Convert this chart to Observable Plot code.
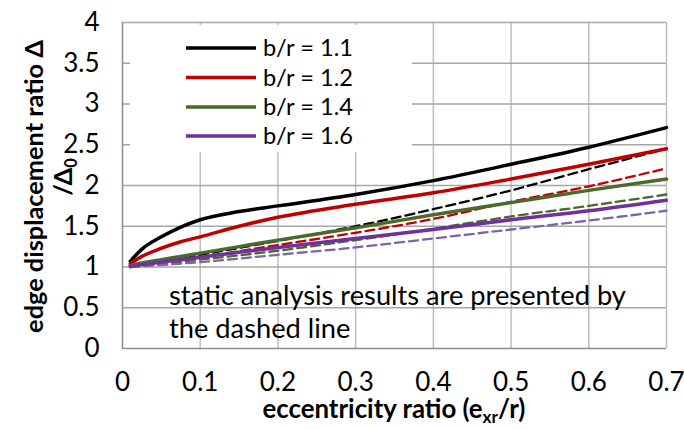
<!DOCTYPE html>
<html>
<head>
<meta charset="utf-8">
<script src="https://cdn.jsdelivr.net/npm/d3@7"></script>
<script src="https://cdn.jsdelivr.net/npm/@observablehq/plot@0.6"></script>
<style>
  html, body { margin: 0; padding: 0; background: #fff; }
  svg { display: block; }
</style>
</head>
<body>
<div id="chart"></div>
<script>
// ---- data ----
const xTicks = [0, 0.1, 0.2, 0.3, 0.4, 0.5, 0.6, 0.7];
const xTickLabels = ["0", "0.1", "0.2", "0.3", "0.4", "0.5", "0.6", "0.7"];
const yTicks = [0, 0.5, 1, 1.5, 2, 2.5, 3, 3.5, 4];
const yTickLabels = ["0", "0.5", "1", "1.5", "2", "2.5", "3", "3.5", "4"];

const seriesNames = ["b/r = 1.1", "b/r = 1.2", "b/r = 1.4", "b/r = 1.6"];
const solidColors = ["#000000", "#c00000", "#4a6a2a", "#7030a0"];
const dashedColors = ["#000000", "#c00000", "#4a6a2a", "#8064a2"];

// dynamic analysis (solid)
const solidX = [0.01, 0.025, 0.05, 0.075, 0.1, 0.15, 0.2, 0.3, 0.4, 0.5, 0.6, 0.7];
const solid11 = [1.07, 1.22, 1.37, 1.49, 1.58, 1.68, 1.75, 1.89, 2.06, 2.26, 2.47, 2.71];
const solid12 = [1.04, 1.13, 1.23, 1.31, 1.37, 1.50, 1.61, 1.77, 1.91, 2.08, 2.26, 2.45];
const solid14 = [1.02, 1.05, 1.09, 1.13, 1.17, 1.25, 1.33, 1.48, 1.64, 1.79, 1.94, 2.08];
const solid16 = [1.01, 1.03, 1.06, 1.09, 1.12, 1.18, 1.24, 1.35, 1.46, 1.58, 1.69, 1.82];

// static analysis (dashed)
const dashX = [0.01, 0.1, 0.2, 0.3, 0.4, 0.5, 0.6, 0.7];
const dash11 = [1.00, 1.15, 1.32, 1.50, 1.71, 1.94, 2.20, 2.45];
const dash12 = [1.00, 1.12, 1.27, 1.42, 1.59, 1.80, 1.99, 2.21];
const dash14 = [1.00, 1.09, 1.20, 1.33, 1.47, 1.62, 1.75, 1.89];
const dash16 = [1.00, 1.06, 1.15, 1.24, 1.35, 1.46, 1.57, 1.69];

const annotationLines = ["static analysis results are presented by", "the dashed line"];

// ---- tables ----
const solidSets = [solid11, solid12, solid14, solid16];
const dashSets = [dash11, dash12, dash14, dash16];
const solidData = solidSets.flatMap((ys, i) => ys.map((y, j) => ({x: solidX[j], y, s: seriesNames[i]})));
const dashData = dashSets.flatMap((ys, i) => ys.map((y, j) => ({x: dashX[j], y, s: seriesNames[i]})));

const FONT = "Lato, 'Open Sans', sans-serif";
const W = 684, H = 429;
const mL = 122, mR = 18, mT = 22, mB = 81;
const TICK_FS = 26;

const plot = Plot.plot({
  width: W, height: H,
  marginLeft: mL, marginRight: mR, marginTop: mT, marginBottom: mB,
  style: {fontFamily: FONT, background: "#fff", overflow: "visible"},
  x: {domain: [0, 0.7]},
  y: {domain: [0, 4]},
  marks: [
    Plot.ruleX(xTicks.slice(1), {stroke: "#bfbfbf", strokeWidth: 1.5}),
    Plot.ruleY(yTicks.slice(1), {stroke: "#a6a6a6", strokeWidth: 1.5}),
    Plot.ruleX([0], {stroke: "#8c8c8c", strokeWidth: 1.5}),
    Plot.ruleY([0], {stroke: "#8c8c8c", strokeWidth: 1.5}),
    Plot.lineY(dashData, {x: "x", y: "y", z: "s", stroke: d => dashedColors[seriesNames.indexOf(d.s)],
      strokeWidth: 2.3, strokeDasharray: "9,5", curve: "monotone-x"}),
    Plot.lineY(solidData, {x: "x", y: "y", z: "s", stroke: d => solidColors[seriesNames.indexOf(d.s)],
      strokeWidth: 3.5, curve: "monotone-x"}),
    Plot.axisX({ticks: xTicks, tickSize: 0, tickPadding: 24, fontSize: TICK_FS, label: null,
      tickFormat: d => xTickLabels[xTicks.indexOf(d)]}),
    Plot.axisY({ticks: yTicks, tickSize: 0, tickPadding: 23, fontSize: TICK_FS, label: null,
      tickFormat: d => yTickLabels[yTicks.indexOf(d)]})
  ]
});

document.getElementById("chart").appendChild(plot);

const svg = d3.select(plot);
svg.selectAll("g[aria-label='x-axis tick label'] text, g[aria-label='y-axis tick label'] text")
  .attr("fill", "#000");

// scale a text's font size so that its rendered width matches a target width
function fitWidth(sel, baseSize, target) {
  const len = sel.node().getComputedTextLength();
  if (len > 0) {
    const k = target / len;
    sel.attr("font-size", baseSize * k);
    sel.selectAll("tspan[data-sub]").each(function() {
      const t = d3.select(this);
      t.attr("font-size", +t.attr("data-sub") * k);
    });
  }
}

// legend (white box hides gridlines)
const legend = svg.append("g").attr("font-family", FONT).attr("text-anchor", "start");
const firstLine = plot.querySelector("g[aria-label='line']");
if (firstLine) plot.insertBefore(legend.node(), firstLine);
legend.append("rect").attr("x", 130).attr("y", 25).attr("width", 282).attr("height", 127).attr("fill", "#fff");
const legendY = [48, 77.5, 107, 136];
seriesNames.forEach((name, i) => {
  legend.append("line").attr("x1", 186).attr("x2", 256).attr("y1", legendY[i]).attr("y2", legendY[i])
    .attr("stroke", solidColors[i]).attr("stroke-width", 3.5);
  const t = legend.append("text").attr("x", 263).attr("y", legendY[i] + 8)
    .attr("font-size", 23).attr("fill", "#000").text(name);
  fitWidth(t, 23, 90);
});

// annotation
const ann = svg.append("g").attr("font-family", FONT).attr("fill", "#000").attr("text-anchor", "start");
let annSize = 23;
annotationLines.forEach((t, i) => {
  const tx = ann.append("text").attr("x", 169).attr("y", 305 + i * 33).attr("font-size", 23).text(t);
  if (i === 0) { fitWidth(tx, 23, 457); annSize = +tx.attr("font-size"); }
  else tx.attr("font-size", annSize);
});

// x-axis title
const xt = svg.append("text").attr("font-family", FONT).attr("font-weight", "bold").attr("font-size", 21)
  .attr("text-anchor", "middle").attr("x", 394).attr("y", 418).attr("fill", "#000");
xt.append("tspan").text("eccentricity ratio (e");
xt.append("tspan").attr("data-sub", 14).attr("font-size", 14).attr("dy", 5).text("xr");
xt.append("tspan").attr("dy", -5).text("/r)");
fitWidth(xt, 21, 263);

// y-axis title (two lines, rotated)
const yt1 = svg.append("text").attr("font-family", FONT).attr("font-weight", "bold").attr("font-size", 21)
  .attr("text-anchor", "middle").attr("transform", "translate(43,186.5) rotate(-90)").attr("fill", "#000")
  .text("edge displacement ratio \u0394");
fitWidth(yt1, 21, 293);
const ySize = +yt1.attr("font-size");
const yt2 = svg.append("text").attr("font-family", FONT).attr("font-weight", "bold").attr("font-size", ySize)
  .attr("text-anchor", "middle").attr("transform", "translate(72,177) rotate(-90)").attr("fill", "#000");
yt2.append("tspan").text("/\u0394");
yt2.append("tspan").attr("font-size", ySize * 0.65).attr("dy", 5).text("0");
</script>
</body>
</html>
